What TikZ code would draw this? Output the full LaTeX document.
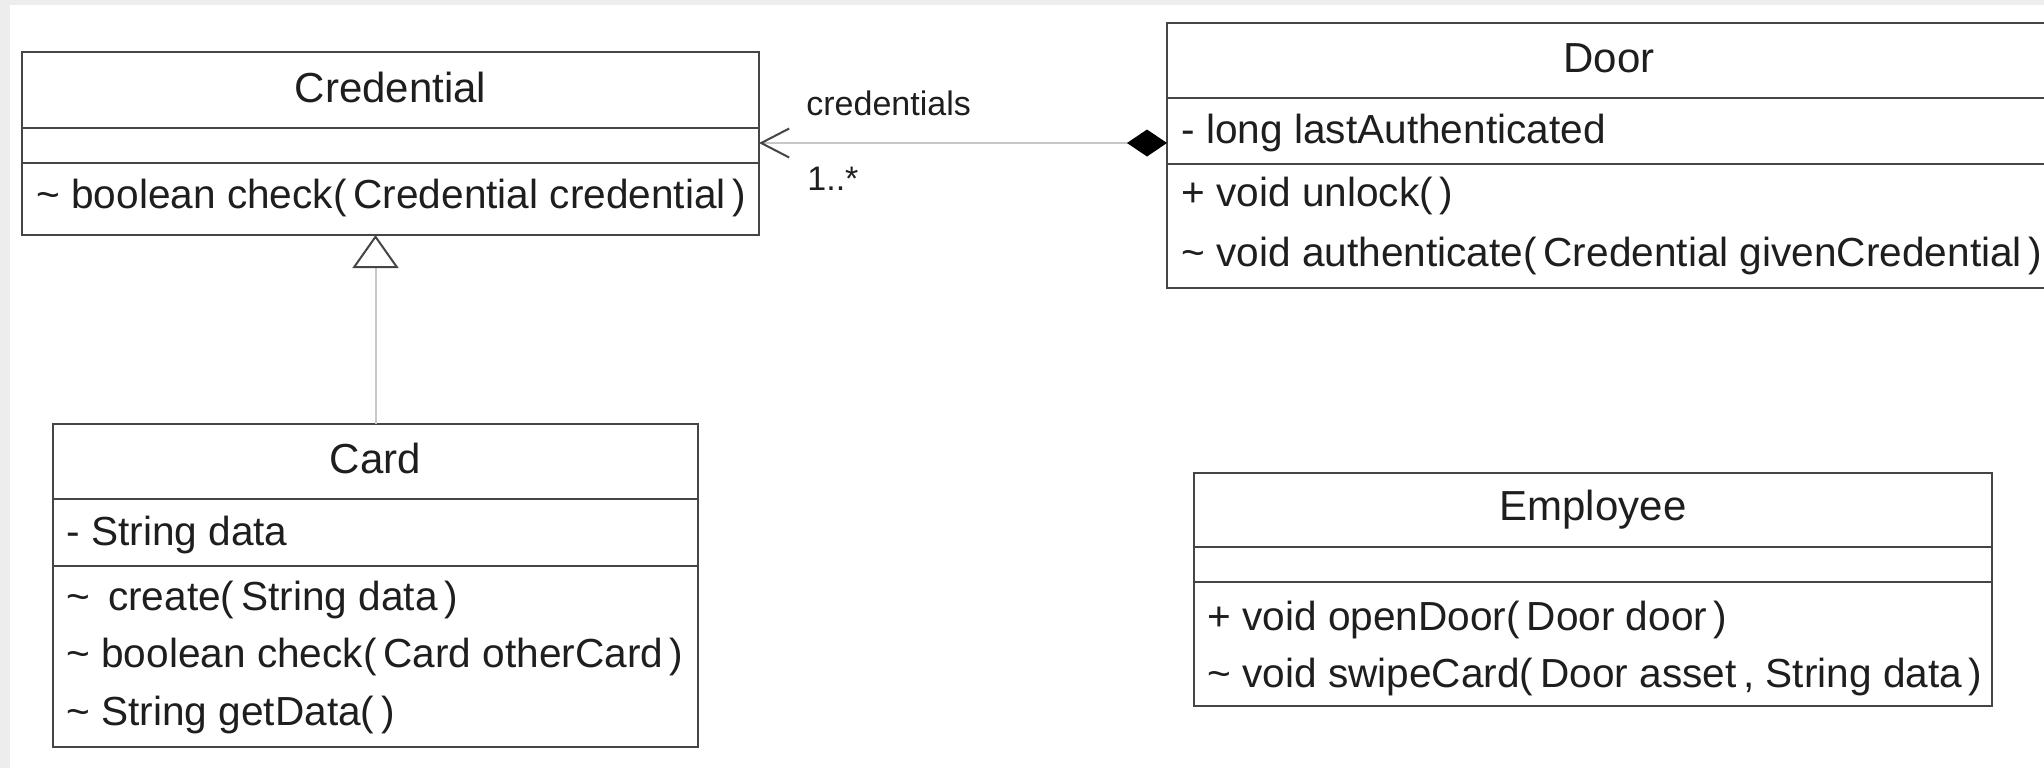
\documentclass[tikz,border=0pt]{standalone}
\usepackage{fontspec}
\setmainfont{Liberation Sans}
\usetikzlibrary{arrows.meta}
\definecolor{bord}{HTML}{454545}
\definecolor{connc}{HTML}{C8C8C8}
\definecolor{strip}{HTML}{EDEDED}
\definecolor{ink}{HTML}{1E1E1E}
\begin{document}
\begin{tikzpicture}[x=0.5pt,y=-0.5pt,
  classbox/.style={draw=bord, line width=1pt, fill=white, inner sep=0pt, outer sep=0pt, rectangle},
  sepline/.style={draw=bord, line width=1.3pt},
  title/.style={anchor=base, inner sep=0pt, text=ink, font=\fontsize{21pt}{25pt}\selectfont},
  member/.style={anchor=base west, inner sep=0pt, text=ink, font=\fontsize{20.3pt}{24pt}\selectfont},
  lbl/.style={anchor=base west, inner sep=0pt, text=ink, font=\fontsize{17pt}{20pt}\selectfont},
  connline/.style={draw=connc, line width=1pt},
]
\useasboundingbox (0,0) rectangle (2044,768);
\fill[white] (0,0) rectangle (2044,768);
\fill[strip] (0,0) rectangle (2044,5);
\fill[strip] (0,0) rectangle (10,768);
\clip (0,0) rectangle (2044,768);

% class boxes
\node[classbox, minimum width=368.5pt, minimum height=91.5pt] (cred) at (390.5,143.5) {};
\node[classbox, minimum width=442pt, minimum height=132.5pt] (door) at (1609,155.5) {};
\node[classbox, minimum width=322.5pt, minimum height=161.5pt] (card) at (375.5,585.5) {};
\node[classbox, minimum width=399pt, minimum height=116.5pt] (emp) at (1593,589.5) {};

% separators
\draw[sepline] (22,128) -- (759,128);
\draw[sepline] (22,163) -- (759,163);
\draw[sepline] (1167,98) -- (2051,98);
\draw[sepline] (1167,164) -- (2051,164);
\draw[sepline] (53,499) -- (698,499);
\draw[sepline] (53,566) -- (698,566);
\draw[sepline] (1194,547) -- (1992,547);
\draw[sepline] (1194,582) -- (1992,582);

% texts
\node[title] (credT) at (390.5,102) {Credential};
\node[member] (credM1) at (36,208) {\textasciitilde{} boolean check(\,Credential credential\,)};

\node[title] (doorT) at (1609,72) {Door};
\node[member] (doorA1) at (1181,143) {- long lastAuthenticated};
\node[member] (doorM1) at (1181,206) {+ void unlock(\,)};
\node[member] (doorM2) at (1181,266) {\textasciitilde{} void authenticate(\,Credential givenCredential\,)};

\node[title] (cardT) at (375.5,473) {Card};
\node[member] (cardA1) at (66,545) {- String data};
\node[member] (cardM1) at (66,610) {\textasciitilde{}\, create(\,String data\,)};
\node[member] (cardM2) at (66,667) {\textasciitilde{} boolean check(\,Card otherCard\,)};
\node[member] (cardM3) at (66,725) {\textasciitilde{} String getData(\,)};

\node[title] (empT) at (1593,520) {Employee};
\node[member] (empM1) at (1207,630) {+ void openDoor(\,Door door\,)};
\node[member] (empM2) at (1207,687) {\textasciitilde{} void swipeCard(\,Door asset\,, String data\,)};

% association labels
\node[lbl] (rolelbl) at (806,115) {credentials};
\node[lbl] (multlbl) at (807,190) {1..*};

% connectors
\coordinate (assocY) at (0,143);
\draw[connline, {Diamond[length=20pt, width=13.5pt, color=black, fill=black]}-{Straight Barb[length=14pt, width=14.5pt, color=bord, line width=1pt]}]
  (door.west |- assocY) -- (cred.east |- assocY);
\draw[connline, -{Triangle[open, length=16.5pt, width=23pt, color=bord, fill=white, line width=1pt]}]
  (card.north) -- (card.north |- cred.south);
\end{tikzpicture}
\end{document}
